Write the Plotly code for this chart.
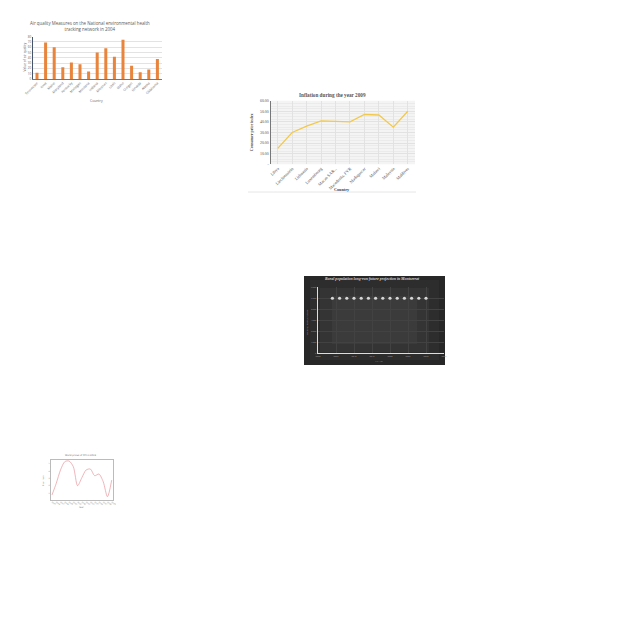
import plotly.graph_objects as go

W = H = 640.0

# ---------------- data ----------------
aq_states = ["Tennessee", "Iowa", "Maine", "Maryland", "Kentucky", "Michigan", "Montana",
             "Indiana", "Missouri", "Utah", "Idaho", "Oregon", "Nevada", "Alaska", "Oklahoma"]
aq_values = [12, 69, 60, 22, 31, 28, 14, 50, 58, 42, 74, 25, 13, 18, 38]

inf_countries = ["Libya", "Liechtenstein", "Lithuania", "Luxembourg", "Macao SAR...",
                 "Macedonia, FYR", "Madagascar", "Malawi", "Malaysia", "Maldives"]
inf_values = [15.0, 30.0, 36.0, 41.0, 40.5, 40.0, 47.0, 46.5, 35.0, 50.0]
inf_tickvals = [0, 10, 20, 30, 40, 50, 60]
inf_ticktext = ["-", "10.00", "20.00", "30.00", "40.00", "50.00", "60.00"]

rural_years = [2024, 2026, 2028, 2030, 2032, 2034, 2036, 2038, 2040, 2042, 2044, 2046, 2048, 2050]
rural_values = [5000, 5000, 5000, 5000, 5000, 5000, 5000, 5000, 5000, 5000, 5000, 5000, 5000, 5000]

cpi_years = [2005, 2006, 2007, 2008, 2009, 2010, 2011, 2012, 2013, 2014, 2015, 2016, 2017, 2018, 2019]
cpi_values = [0.73, 2.32, 4.14, 5.27, 5.36, 4.59, 2.0, 3.09, 4.14, 4.27, 3.36, 3.59, 2.55, 0.5, 2.77]


def px(x):
    return x / W


def py(y):
    return 1 - y / H


fig = go.Figure()

# chart 1: bars
fig.add_trace(go.Bar(x=aq_states, y=aq_values, marker_color="#E8843C",
                     marker_line_width=0, xaxis="x", yaxis="y"))
# chart 2: line
fig.add_trace(go.Scatter(x=inf_countries, y=inf_values, mode="lines",
                         line=dict(color="#F2C94C", width=1.3), xaxis="x2", yaxis="y2"))
# chart 3: markers
fig.add_trace(go.Scatter(x=rural_years, y=rural_values, mode="markers",
                         marker=dict(color="#D6D6D6", size=3.2), xaxis="x3", yaxis="y3"))
# chart 4: spline
fig.add_trace(go.Scatter(x=cpi_years, y=cpi_values, mode="lines",
                         line=dict(color="#E8979C", width=0.7, shape="spline", smoothing=0.8),
                         xaxis="x4", yaxis="y4"))

common = dict(automargin=False, zeroline=False, ticks="")

fig.update_layout(
    template="none",
    width=640, height=640,
    margin=dict(l=0, r=0, t=0, b=0),
    paper_bgcolor="white", plot_bgcolor="rgba(0,0,0,0)",
    showlegend=False,
    bargap=0.65,
    # chart 1
    xaxis=dict(domain=[px(32.7), px(161.7)], anchor="y", tickangle=-45,
               tickfont=dict(family="Open Sans", size=3.3, color="#666"),
               showline=True, linecolor="#6B7B8C", linewidth=0.8, showgrid=False, **common),
    yaxis=dict(domain=[py(79), py(36.7)], anchor="x", range=[0, 80], dtick=10,
               tickfont=dict(family="Open Sans", size=3.0, color="#666"),
               showline=True, linecolor="#44546A", linewidth=0.8,
               gridcolor="#E3E3E3", gridwidth=0.5, **common),
    # chart 2
    xaxis2=dict(domain=[px(270.5), px(415)], anchor="y2", tickangle=-45,
                range=[-0.5, 9.5],
                tickfont=dict(family="Liberation Serif", size=4.3, color="#555"),
                showline=False, showgrid=True, gridcolor="#E2E2E2", gridwidth=0.5,
                minor=dict(showgrid=True, gridcolor="#EBEBEB", gridwidth=0.4, nticks=4),
                **common),
    yaxis2=dict(domain=[py(164.3), py(100.7)], anchor="x2", range=[0, 60],
                tickvals=inf_tickvals, ticktext=inf_ticktext,
                tickfont=dict(family="Liberation Serif", size=3.9, color="#555"),
                showline=True, linecolor="#777", linewidth=1,
                gridcolor="#E2E2E2", gridwidth=0.5,
                minor=dict(showgrid=True, gridcolor="#EBEBEB", gridwidth=0.4, dtick=2.5),
                **common),
    # chart 3
    xaxis3=dict(domain=[px(318), px(444)], anchor="y3", range=[2020, 2055], dtick=5,
                tickfont=dict(family="Liberation Serif", size=2.6, color="#9A9A9A"),
                showline=True, linecolor="#DDDDDD", linewidth=1.4,
                gridcolor="#424242", gridwidth=0.5, **common),
    yaxis3=dict(domain=[py(353), py(287.3)], anchor="x3", range=[0, 6000], dtick=1000,
                tickfont=dict(family="Liberation Serif", size=2.6, color="#9A9A9A"),
                showline=True, linecolor="#DDDDDD", linewidth=1.4,
                gridcolor="#424242", gridwidth=0.5, **common),
    # chart 4
    xaxis4=dict(domain=[px(50.7), px(113)], anchor="y4", range=[2004.7, 2019.3], dtick=1,
                tickfont=dict(family="DejaVu Sans", size=1.8, color="#777"),
                showline=True, mirror=True, linecolor="#BBBBBB", linewidth=0.5,
                showgrid=False, **common),
    yaxis4=dict(domain=[py(500), py(460)], anchor="x4", range=[0.05, 5.5], dtick=1,
                tickfont=dict(family="DejaVu Sans", size=1.8, color="#777"),
                showline=True, mirror=True, linecolor="#BBBBBB", linewidth=0.5,
                showgrid=False, **common),
)

shapes = [
    # chart 2 plot background
    dict(type="rect", xref="x2 domain", yref="y2 domain", x0=0, x1=1, y0=0, y1=1,
         fillcolor="#F4F4F4", line_width=0, layer="below"),
    # chart 2 bottom rule
    dict(type="line", xref="paper", yref="paper", x0=px(248), x1=px(416), y0=py(192), y1=py(192),
         line=dict(color="#E0E0E0", width=0.8)),
    # chart 3 dark panel with a soft lighter centre
    dict(type="rect", xref="paper", yref="paper", x0=px(304), x1=px(445), y0=py(365), y1=py(276),
         fillcolor="#272727", line_width=0, layer="below"),
    dict(type="rect", xref="paper", yref="paper", x0=px(310), x1=px(439), y0=py(360), y1=py(280),
         fillcolor="rgba(60,60,60,0.3)", line_width=0, layer="below"),
    dict(type="rect", xref="paper", yref="paper", x0=px(320), x1=px(429), y0=py(352), y1=py(288),
         fillcolor="rgba(70,70,70,0.3)", line_width=0, layer="below"),
    dict(type="rect", xref="paper", yref="paper", x0=px(332), x1=px(417), y0=py(344), y1=py(296),
         fillcolor="rgba(80,80,80,0.25)", line_width=0, layer="below"),
]
fig.update_layout(shapes=shapes)

ann = []


def add(text, x, y, size, color, family, angle=0, bold=False, italic=False):
    t = text
    if bold:
        t = "<b>" + t + "</b>"
    if italic:
        t = "<i>" + t + "</i>"
    ann.append(dict(text=t, x=px(x), y=py(y), xref="paper", yref="paper", showarrow=False,
                    xanchor="center", yanchor="middle", textangle=angle,
                    font=dict(size=size, color=color, family=family)))


add("Air quality Measures on the National environmental health<br>tracking network in 2004",
    90, 26, 4.4, "#595959", "Open Sans")
add("Country", 96, 100.7, 3.4, "#666", "Open Sans")
add("Value of air quality", 23.5, 57, 3.3, "#666", "Open Sans", angle=-90)

add("Inflation during the year 2009", 332, 95, 5.2, "#555", "Liberation Serif", bold=True)
add("Country", 341.7, 189.5, 4.2, "#444", "Liberation Serif", bold=True)
add("Consumer price index", 251.7, 132.5, 4.0, "#444", "Liberation Serif", angle=-90, bold=True)

add("Rural population long-run future projection in Montserrat", 372, 279, 3.9, "#D8D8D8",
    "Liberation Serif", bold=True, italic=True)
add("YEAR", 379, 361.3, 2.8, "#A0A0A0", "Liberation Serif")
add("RURAL POPULATION", 306.7, 322, 2.6, "#A0A0A0", "Liberation Serif", angle=-90)

add("World prices of CPI in 2019", 81, 455.3, 2.3, "#666", "DejaVu Sans")
add("Year", 81, 507, 2.2, "#777", "DejaVu Sans")
add("Price index", 43.3, 480, 2.0, "#777", "DejaVu Sans", angle=-90)

fig.update_layout(annotations=ann)

fig.write_html("out.html")
